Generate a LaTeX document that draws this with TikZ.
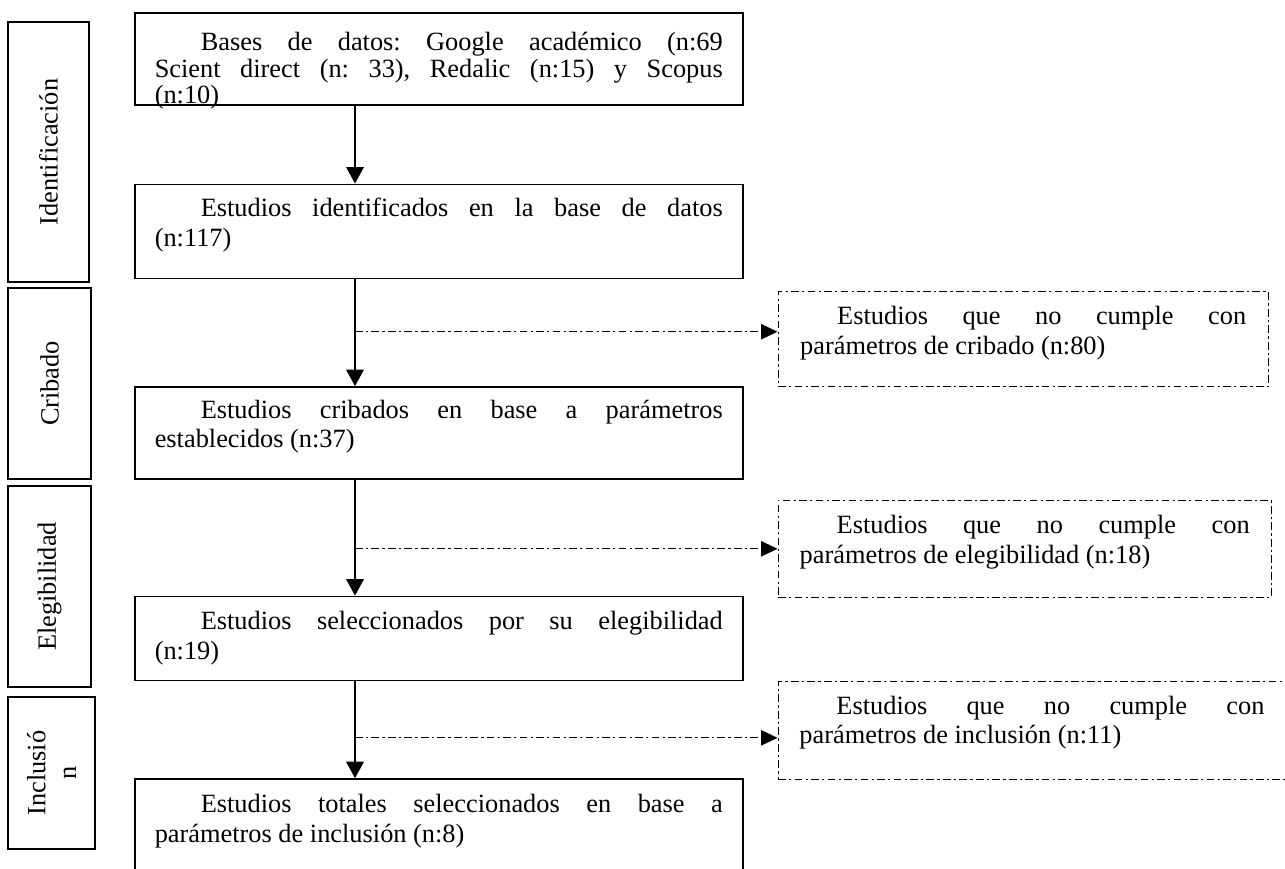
\documentclass[tikz,border=0pt]{standalone}
\usepackage{fontspec}
\setmainfont{Liberation Serif}
\usetikzlibrary{positioning,calc,arrows.meta}
\tolerance=10000
\hbadness=10000
\frenchspacing

\begin{document}
\begin{tikzpicture}[caja/.style={draw,line width=0.7pt,minimum width=9.728cm,text width=9.088cm,inner sep=0.1cm,align=justify,font=\fontsize{12pt}{13.5pt}\selectfont},
    fase/.style={draw,line width=0.7pt,rotate=90,align=center,inner sep=0pt,font=\fontsize{12pt}{14pt}\selectfont},
    descarte/.style={draw,line width=0.6pt,dash pattern=on 3.5pt off 1.5pt on 1pt off 1.5pt,inner sep=0.1cm,align=justify,font=\fontsize{12pt}{13.6pt}\selectfont},
    flecha/.style={line width=0.7pt,-{Triangle[length=7.5pt,width=8pt]}},
    rama/.style={line width=0.6pt,dash pattern=on 3.5pt off 1.5pt on 1pt off 1.5pt,-{Triangle[length=7.5pt,width=7pt]}}]

    \path[use as bounding box] (0,0) rectangle (20.56,-13.888);
    \clip (0,0) rectangle (20.56,-13.888);

        % fases
        \node[fase][minimum width=4.16cm,minimum height=1.296cm](s1) at (0.776,-2.432){Identificación};
        \node[fase][minimum width=3.056cm,minimum height=1.328cm](s2) at (0.792,-6.136){Cribado};
        \node[fase][minimum width=3.216cm,minimum height=1.328cm](s3) at (0.792,-9.384){Elegibilidad};
        \node[fase][minimum width=2.432cm,minimum height=1.392cm](s4) at (0.824,-12.368){Inclusió\\n};

        % cajas principales
        \node[caja][minimum height=1.472cm,font={\fontsize{12pt}{12pt}\selectfont\lineskiplimit=-5pt}](b1)[anchor=north west] at (2.144,-0.192){\hspace*{0.736cm}Bases de datos: Google académico (n:69\linebreak Scient direct (n: 33), Redalic (n:15) y Scopus\linebreak (n:10)\par\vspace*{-0.38cm}\hrule height 0pt};
        \node[caja][minimum height=1.504cm](b2)[below = 1.248cm of b1]{\hspace*{0.736cm}Estudios identificados en la base de datos\linebreak (n:117)\par\vspace*{0.2cm}\hrule height 0pt};
        \node[caja][minimum height=1.472cm](b3)[below = 1.712cm of b2]{\hspace*{0.736cm}Estudios cribados en base a parámetros\linebreak establecidos (n:37)\par\vspace*{0.2cm}\hrule height 0pt};
        \node[caja][minimum height=1.344cm](b4)[below = 1.856cm of b3]{\hspace*{0.736cm}Estudios seleccionados por su elegibilidad\linebreak (n:19)};
        \node[caja][minimum height=1.744cm](b5)[below = 1.552cm of b4]{\hspace*{0.736cm}Estudios totales seleccionados en base a\linebreak parámetros de inclusión (n:8)\par\mbox{}};

        % descartes
        \node[descarte][minimum width=7.84cm,minimum height=1.52cm,text width=7.136cm](r1)[below right = 0.192cm and 0.544cm of b2]{\hspace*{0.592cm}Estudios que no cumple con\linebreak parámetros de cribado (n:80)\par\vspace*{0.2cm}\hrule height 0pt};
        \node[descarte][minimum width=7.888cm,minimum height=1.552cm,text width=7.2cm](r2)[below right = 0.32cm and 0.544cm of b3]{\hspace*{0.592cm}Estudios que no cumple con\linebreak parámetros de elegibilidad (n:18)\par\vspace*{0.2cm}\hrule height 0pt};
        \node[descarte][minimum width=9cm,minimum height=1.568cm,text width=8.32cm](r3)[below right = 0cm and 0.544cm of b4]{\rightskip=0.88cm\hspace*{0.592cm}Estudios que no cumple con\linebreak parámetros de inclusión (n:11)\par\vspace*{0.26cm}\hrule height 0pt};

        \coordinate (eje) at (5.68,0);
        \coordinate (d1) at ($(eje |- r1.west)+(0,0.12)$);
        \coordinate (d2) at (eje |- r2.west);
        \coordinate (d3) at ($(eje |- r3.west)+(0,-0.112)$);

        \path [flecha] (eje |- b1.south) edge (eje |- b2.north);
        \path [flecha] (eje |- b2.south) edge (eje |- b3.north);
        \path [flecha] (eje |- b3.south) edge (eje |- b4.north);
        \path [flecha] (eje |- b4.south) edge (eje |- b5.north);
        \path [rama] (d1) edge (d1 -| r1.west);
        \path [rama] (d2) edge (r2);
        \path [rama] (d3) edge (d3 -| r3.west);

\end{tikzpicture}
\end{document}
